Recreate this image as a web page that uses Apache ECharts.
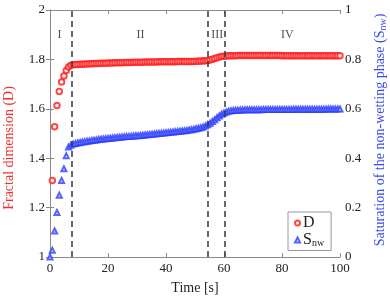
<!DOCTYPE html>
<html>
<head>
<meta charset="utf-8">
<script src="https://cdn.jsdelivr.net/npm/echarts@6/dist/echarts.min.js"></script>
<style>html,body{margin:0;padding:0;background:#fff}#c{width:390px;height:300px}</style>
</head>
<body>
<div id="c"></div>
<script>
const times = [0,0.8,1.6,2.4,3.2,4.0,4.8,5.6,6.4,7.2,
8.0,8.8,9.6,10.4,11.2,12.0,12.8,13.6,14.4,15.2,
16.0,16.8,17.6,18.4,19.2,20.0,20.8,21.6,22.4,23.2,
24.0,24.8,25.6,26.4,27.2,28.0,28.8,29.6,30.4,31.2,
32.0,32.8,33.6,34.4,35.2,36.0,36.8,37.6,38.4,39.2,
40.0,40.8,41.6,42.4,43.2,44.0,44.8,45.6,46.4,47.2,
48.0,48.8,49.6,50.4,51.2,52.0,52.8,53.6,54.4,55.2,
56.0,56.8,57.6,58.4,59.2,60.0,60.8,61.6,62.4,63.2,
64.0,64.8,65.6,66.4,67.2,68.0,68.8,69.6,70.4,71.2,
72.0,72.8,73.6,74.4,75.2,76.0,76.8,77.6,78.4,79.2,
80.0,80.8,81.6,82.4,83.2,84.0,84.8,85.6,86.4,87.2,
88.0,88.8,89.6,90.4,91.2,92.0,92.8,93.6,94.4,95.2,
96.0,96.8,97.6,98.4,99.2,100.0];

const fractalD = [null,1.310,1.527,1.613,1.670,1.708,1.733,1.755,1.769,1.776,
1.778,1.779,1.779,1.780,1.780,1.781,1.781,1.782,1.782,1.783,
1.783,1.783,1.784,1.784,1.784,1.785,1.785,1.785,1.786,1.786,
1.786,1.786,1.787,1.787,1.787,1.787,1.788,1.788,1.788,1.788,
1.788,1.789,1.789,1.789,1.789,1.789,1.789,1.790,1.790,1.790,
1.790,1.790,1.790,1.790,1.790,1.791,1.791,1.791,1.791,1.791,
1.792,1.792,1.792,1.793,1.793,1.794,1.794,1.795,1.796,1.798,
1.801,1.804,1.807,1.810,1.812,1.813,1.814,1.815,1.815,1.815,
1.815,1.816,1.816,1.816,1.816,1.816,1.816,1.816,1.816,1.816,
1.816,1.816,1.816,1.816,1.816,1.816,1.816,1.816,1.816,1.816,
1.815,1.815,1.815,1.815,1.815,1.815,1.815,1.815,1.815,1.815,
1.815,1.815,1.815,1.815,1.815,1.815,1.815,1.815,1.815,1.815,
1.815,1.815,1.815,1.815,1.815,1.815];

const satNW = [0,0.027,0.105,0.180,0.250,0.310,0.357,0.410,0.445,0.452,
0.457,0.460,0.462,0.464,0.466,0.467,0.469,0.470,0.472,0.473,
0.474,0.476,0.477,0.478,0.479,0.480,0.481,0.482,0.483,0.484,
0.485,0.486,0.487,0.488,0.488,0.489,0.490,0.491,0.491,0.492,
0.493,0.494,0.495,0.496,0.497,0.498,0.499,0.500,0.501,0.502,
0.503,0.504,0.505,0.506,0.507,0.508,0.509,0.510,0.511,0.512,
0.514,0.515,0.517,0.519,0.521,0.523,0.526,0.530,0.535,0.542,
0.549,0.556,0.564,0.571,0.578,0.583,0.587,0.590,0.592,0.593,
0.594,0.594,0.595,0.595,0.596,0.596,0.596,0.596,0.596,0.596,
0.596,0.596,0.597,0.597,0.597,0.597,0.597,0.597,0.597,0.597,
0.597,0.597,0.597,0.597,0.597,0.598,0.598,0.598,0.598,0.598,
0.598,0.598,0.598,0.598,0.598,0.598,0.598,0.598,0.598,0.599,
0.599,0.599,0.599,0.599,0.599,0.599];

const phaseBounds = [7.5, 54.5, 60.3];
const phaseNames = ['I','II','III','IV'];
const phaseX = [3.3, 31.2, 57.7, 81.8];
const phaseY = 1.9;
const xTicks = [0,20,40,60,80,100];

const FONT = '"Liberation Serif", "DejaVu Serif", serif';
const AX = '#8a8a8a';
const TXT = '#222';

const chart = echarts.init(document.getElementById('c'), null, {renderer:'canvas'});

const dData = times.map((t,i)=>[t, fractalD[i]]).filter(p=>p[1]!==null);
const sData = times.map((t,i)=>[t, satNW[i]]);
const phaseData = phaseNames.map((n,i)=>({value:[phaseX[i], phaseY], name:n}));

const baseX = {
  type:'value', min:xTicks[0], max:xTicks[xTicks.length-1], interval:20,
  axisLine:{lineStyle:{color:AX, width:1}},
  axisTick:{inside:true, length:4, lineStyle:{color:AX}},
  splitLine:{show:false}
};
const baseY = {
  type:'value',
  axisLine:{show:true, lineStyle:{color:AX, width:1}},
  axisTick:{show:true, inside:true, length:4, lineStyle:{color:AX}},
  splitLine:{show:false}
};

chart.setOption({
  animation:false,
  backgroundColor:'#fff',
  grid:{left:50, right:50, top:10, bottom:42, containLabel:false},
  xAxis:[
    Object.assign({}, baseX, {position:'bottom',
      axisLabel:{color:TXT, fontFamily:FONT, fontSize:13, margin:5},
      name:'Time [s]', nameLocation:'middle', nameGap:24,
      nameTextStyle:{color:TXT, fontFamily:FONT, fontSize:14}}),
    Object.assign({}, baseX, {position:'top', axisLabel:{show:false}})
  ],
  yAxis:[
    Object.assign({}, baseY, {position:'left', min:1, max:2, interval:0.2,
      axisLabel:{color:TXT, fontFamily:FONT, fontSize:13, margin:5,
        formatter:v=>String(+v.toFixed(1))}}),
    Object.assign({}, baseY, {position:'right', min:0, max:1, interval:0.2,
      axisLabel:{color:TXT, fontFamily:FONT, fontSize:13, margin:5,
        formatter:v=>String(+v.toFixed(1))}})
  ],
  legend:{
    left:288, top:212, orient:'vertical',
    backgroundColor:'#fff', borderColor:'#999', borderWidth:1,
    padding:[3,7,2,6], itemGap:1, itemWidth:5, itemHeight:5,
    data:['D','Snw'],
    textStyle:{color:TXT, fontFamily:FONT, fontSize:16, padding:[0,0,0,-2],
      rich:{sub:{fontFamily:FONT, fontSize:10, color:TXT, padding:[7,0,0,0]}}},
    formatter:n=> n==='Snw' ? 'S{sub|nw}' : n
  },
  graphic:[
    {type:'text', x:9, y:148, rotation:Math.PI/2,
      style:{text:'Fractal dimension (D)', fill:'#f23030', font:'14px '+FONT,
        align:'center', verticalAlign:'middle'}},
    {type:'text', x:380, y:130, rotation:Math.PI/2,
      style:{text:'Saturation of the non-wetting phase (S{sub|nw})', fill:'#3a4cf0',
        font:'14px '+FONT, align:'center', verticalAlign:'middle',
        rich:{sub:{fontFamily:FONT, fontSize:10, fill:'#3a4cf0', padding:[7,0,0,0]}}}}
  ],
  series:[
    {name:'phases', type:'scatter', xAxisIndex:0, yAxisIndex:0, data:phaseData,
      symbolSize:0, silent:true,
      label:{show:true, position:'inside', formatter:p=>p.name,
        color:TXT, fontFamily:FONT, fontSize:12},
      markLine:{silent:true, symbol:'none', label:{show:false},
        lineStyle:{color:'#2c3a44', width:1.5, type:[6,4]},
        data:phaseBounds.map(x=>({xAxis:x}))}
    },
    {name:'D', type:'scatter', xAxisIndex:0, yAxisIndex:0, data:dData,
      symbol:'emptyCircle', symbolSize:5.5,
      itemStyle:{color:'#ff1a1a', borderColor:'#ff1a1a', borderWidth:1}},
    {name:'Snw', type:'scatter', xAxisIndex:0, yAxisIndex:1, data:sData,
      symbol:'emptyTriangle', symbolSize:5,
      itemStyle:{color:'#2a3cff', borderColor:'#2a3cff', borderWidth:0.9}}
  ]
});
</script>
</body>
</html>
